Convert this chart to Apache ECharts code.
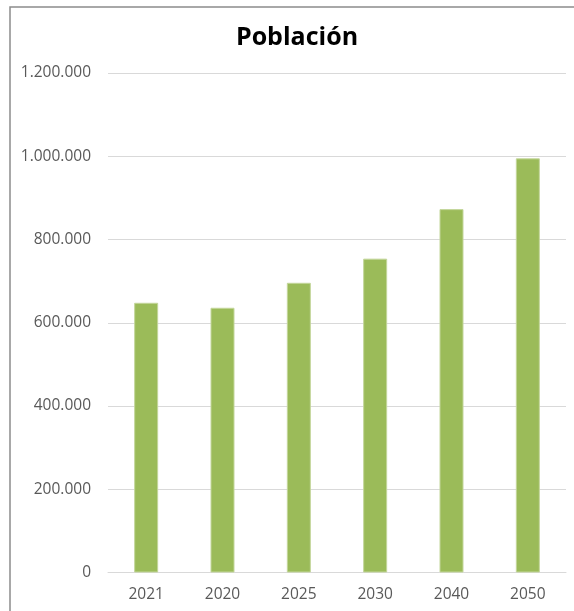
<!DOCTYPE html>
<html>
<head>
<meta charset="utf-8">
<script src="https://cdn.jsdelivr.net/npm/echarts@6/dist/echarts.min.js"></script>
<style>
html,body{margin:0;padding:0;background:#fff;}
#chart{width:574px;height:611px;}
</style>
</head>
<body>
<div id="chart"></div>
<script>
const title = "Población";
const categories = ["2021", "2020", "2025", "2030", "2040", "2050"];
const poblacion = [648000, 636000, 696000, 754000, 873000, 995000];
const yTicks = [0, 200000, 400000, 600000, 800000, 1000000, 1200000];

function fmt(v) {
  return String(v).replace(/\B(?=(\d{3})+(?!\d))/g, ".");
}

const chart = echarts.init(document.getElementById('chart'), null, {renderer: 'canvas'});
chart.setOption({
  animation: false,
  backgroundColor: '#ffffff',
  title: {
    text: title,
    left: 292,
    textAlign: 'center',
    top: 20,
    textStyle: {fontFamily: 'Open Sans', fontWeight: 'bold', fontSize: 25, color: '#000000'}
  },
  graphic: [{
    type: 'rect',
    shape: {x: 10, y: 7, width: 800, height: 800},
    style: {fill: 'none', stroke: '#8c8c8c', lineWidth: 1.5},
    silent: true
  }],
  grid: {left: 108, right: 8, top: 73, bottom: 38.5, containLabel: false},
  xAxis: {
    type: 'category',
    data: categories,
    axisLine: {show: true, lineStyle: {color: '#d9d9d9', width: 1}},
    axisTick: {show: false},
    axisLabel: {fontFamily: 'Open Sans', fontSize: 15.5, color: '#595959', margin: 14}
  },
  yAxis: {
    type: 'value',
    min: yTicks[0],
    max: yTicks[yTicks.length - 1],
    interval: 200000,
    axisLine: {show: false},
    axisTick: {show: false},
    splitLine: {lineStyle: {color: '#d9d9d9', width: 1}},
    axisLabel: {fontFamily: 'Open Sans', fontSize: 15.5, color: '#595959', margin: 17, formatter: fmt}
  },
  series: [{
    type: 'bar',
    data: poblacion,
    barWidth: 24,
    itemStyle: {color: '#9bbb59', borderColor: '#c3d69b', borderWidth: 1}
  }]
});
</script>
</body>
</html>
